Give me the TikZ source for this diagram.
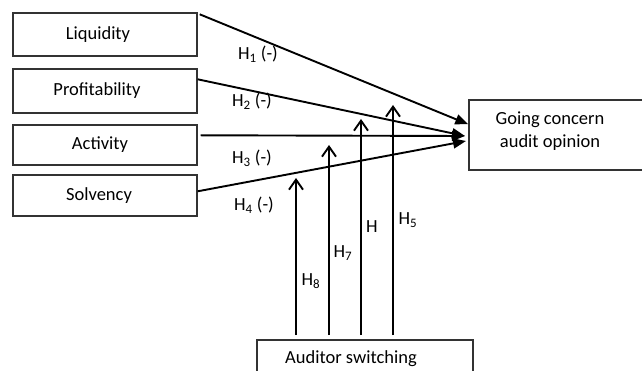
\documentclass[tikz,border=0pt]{standalone}
\usepackage{fontspec}
\setmainfont{Carlito}
\usetikzlibrary{arrows.meta,calc}

\tikzset{
  varbox/.style={draw=black!80, line width=1.4pt, rectangle, inner sep=0pt,
    minimum width=184pt, font=\fontsize{18.5}{23}\selectfont},
  lbl/.style={font=\fontsize{18.5}{23}\selectfont, inner sep=0pt},
  hyp/.style={line width=1.9pt, -{Triangle[length=13pt,width=10pt]}},
  mod/.style={line width=1.9pt, -{Straight Barb[length=10pt,width=14pt,line width=1.9pt]}}
}

\begin{document}
\begin{tikzpicture}[x=1pt,y=-1pt]
  \useasboundingbox (0,0) rectangle (642,371);
  \clip (0,0) rectangle (642,371);

  % independent variables
  \node[varbox, minimum height=43pt, label={[lbl,xshift=-7pt]center:Liquidity}]     (liq) at (105,34.5) {};
  \node[varbox, minimum height=44pt, label={[lbl,xshift=-8pt]center:Profitability}] (pro) at (105,91)   {};
  \node[varbox, minimum height=40pt, label={[lbl,xshift=-5pt]center:Activity}]      (act) at (105,145)  {};
  \node[varbox, minimum height=41pt, label={[lbl,xshift=-6pt]center:Solvency}]      (sol) at (105,195.5){};

  % dependent variable (box runs past the right edge)
  \node[varbox, minimum width=200pt, minimum height=70pt] (goc) at (569,135) {};
  \node[lbl, align=center] (goctext) at (550,131) {Going concern\\audit opinion};

  % moderating variable (box runs past the bottom edge)
  \node[varbox, minimum width=216pt, minimum height=60pt] (aud) at (365,370) {};
  \node[lbl] (audtext) at (351,359) {Auditor switching};

  % arrow ends near the dependent box
  \coordinate (e1) at ($(goc.north west)+(0,25)$);
  \coordinate (e2) at (465,136);
  \coordinate (e3) at (465,136);
  \coordinate (e4) at (466,141);

  % direct effects
  \draw[hyp] ($(liq.north east)+(2,2)$) -- (e1);
  \draw[hyp] ($(pro.north east)+(0,11)$) -- (e2);
  \draw[hyp] ($(act.north east)+(3,11)$) -- (e3);
  \draw[hyp] ($(sol.north east)+(0,17)$) -- (e4);

  \node[lbl] (h1) at (258,54)  {H\textsubscript{1} (-)};
  \node[lbl] (h2) at (252,101) {H\textsubscript{2} (-)};
  \node[lbl] (h3) at (252,158) {H\textsubscript{3} (-)};
  \node[lbl] (h4) at (254,205) {H\textsubscript{4} (-)};

  % moderating effects
  \coordinate (b8) at (296,335); \coordinate (t8) at (296,178);
  \coordinate (b7) at (329,335); \coordinate (t7) at (329,145);
  \coordinate (b6) at (361,335); \coordinate (t6) at (361,119);
  \coordinate (b5) at (393,335); \coordinate (t5) at (393,105);
  \draw[mod] (b8) -- (t8);
  \draw[mod] (b7) -- (t7);
  \draw[mod] (b6) -- (t6);
  \draw[mod] (b5) -- (t5);

  \node[lbl] (h8) at (311,281) {H\textsubscript{8}};
  \node[lbl] (h7) at (343,253) {H\textsubscript{7}};
  \node[lbl] (h6) at (372,227) {H};
  \node[lbl] (h5) at (408,220) {H\textsubscript{5}};
\end{tikzpicture}
\end{document}
